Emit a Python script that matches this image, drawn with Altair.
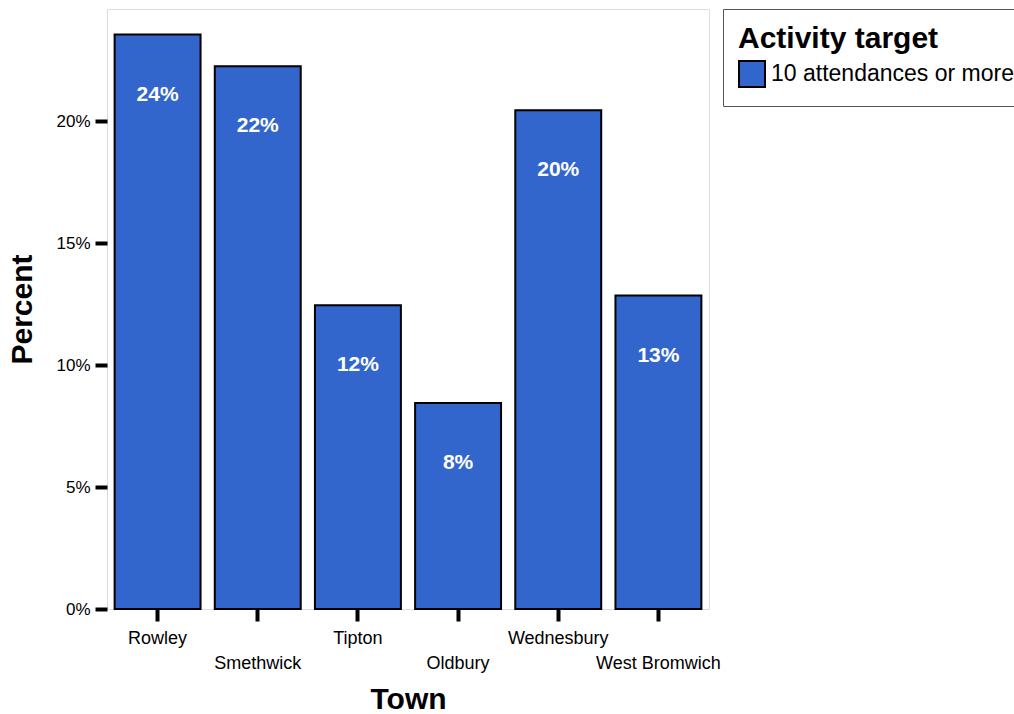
import altair as alt
import pandas as pd

towns = ["Rowley", "Smethwick", "Tipton", "Oldbury", "Wednesbury", "West Bromwich"]
percents = [23.55, 22.25, 12.45, 8.45, 20.45, 12.85]
bar_labels = ["24%", "22%", "12%", "8%", "20%", "13%"]
target = ["10 attendances or more"] * 6
y_ticks = [0, 5, 10, 15, 20]
lower_row = ["Smethwick", "Oldbury", "West Bromwich"]

df = pd.DataFrame({"Town": towns, "Percent": percents, "Label": bar_labels,
                   "Activity target": target})

FONT = "Liberation Sans"

x = alt.X(
    "Town:N", sort=towns, title="Town",
    scale=alt.Scale(paddingInner=0.142, paddingOuter=0.076),
    axis=alt.Axis(
        labelAngle=0, labelFontSize=18, labelColor="black", labelFont=FONT,
        labelPadding={"condition": {"test": "indexof(" + str(lower_row) + ", datum.value) >= 0", "value": 33},
                      "value": 8},
        tickSize=12, tickWidth=4, tickColor="black", domain=False,
        titleFontSize=30, titleFontWeight="bold", titleColor="black", titleFont=FONT,
        titlePadding=12,
    ),
)
y = alt.Y(
    "Percent:Q", title="Percent",
    scale=alt.Scale(domain=[0, 24.6], nice=False),
    axis=alt.Axis(
        values=y_ticks, labelExpr="datum.value + '%'", labelFontSize=17,
        labelColor="black", labelFont=FONT, labelPadding=5,
        tickSize=12, tickWidth=4, tickColor="black", domain=False, grid=False,
        titleFontSize=30, titleFontWeight="bold", titleColor="black", titleFont=FONT,
        titlePadding=18,
    ),
)

bars = alt.Chart(df).mark_bar(stroke="black", strokeWidth=2, opacity=1).encode(
    x=x, y=y,
    color=alt.Color(
        "Activity target:N",
        scale=alt.Scale(range=["#3366CC"]),
        legend=alt.Legend(
            title="Activity target", orient="right", offset=14, padding=15,
            titleFontSize=30, titleFontWeight="bold", titleColor="black", titleFont=FONT,
            labelFontSize=23, labelColor="black", labelFont=FONT, labelOffset=5,
            labelLimit=1000, titleLimit=1000,
            symbolType="square", symbolSize=676, symbolStrokeColor="black",
            symbolStrokeWidth=2, symbolOpacity=1, titlePadding=6,
            strokeColor="#555555", fillColor="white",
        ),
    ),
)

texts = alt.Chart(df).mark_text(
    dy=60, baseline="middle", align="center", color="white",
    fontSize=21, fontWeight="bold", font=FONT,
).encode(x=alt.X("Town:N", sort=towns), y=alt.Y("Percent:Q"), text="Label:N")

chart = alt.layer(bars, texts).properties(
    width=602, height=600,
    autosize=alt.AutoSizeParams(type="none"),
    padding={"left": 107, "top": 9, "right": 305, "bottom": 105},
).configure_view(stroke="#808080", strokeWidth=1).configure_legend(
    strokeWidth=2, cornerRadius=0
).configure(font=FONT)

chart.save("out.html", embed_options={"renderer": "svg", "actions": False})
